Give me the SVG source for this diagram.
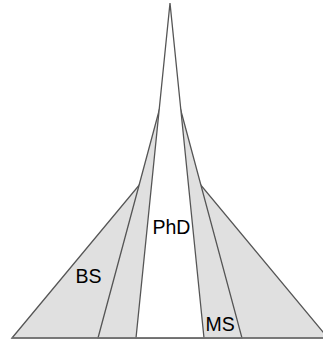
<svg xmlns="http://www.w3.org/2000/svg" width="323" height="341" viewBox="0 0 323 341">
<style>
.tri{stroke:#555;stroke-width:1.3;stroke-linejoin:miter}
.grey{fill:#e0e0e0}
.white{fill:#fff}
.lbl{font-family:"Liberation Sans",Arial,sans-serif;font-size:19.5px;fill:#000}
.base{stroke:#777;stroke-width:1.6;fill:none}
</style>
<rect width="323" height="341" fill="#fff"/>
<g id="bs">
<polygon class="tri grey" points="12,338 170,148 328,338"/>
</g>
<g id="ms">
<polygon class="tri grey" points="98,338 170,70 242,338"/>
</g>
<g id="phd">
<polygon class="tri white" points="136,338 170,3 204,338"/>
</g>
<g id="connectors">
<line class="base" x1="12" y1="338" x2="323" y2="338"/>
</g>
<g id="labels">
<text class="lbl" x="75.5" y="283">BS</text>
<text class="lbl" x="152.5" y="233.5">PhD</text>
<text class="lbl" x="205.5" y="331">MS</text>
</g>
</svg>
